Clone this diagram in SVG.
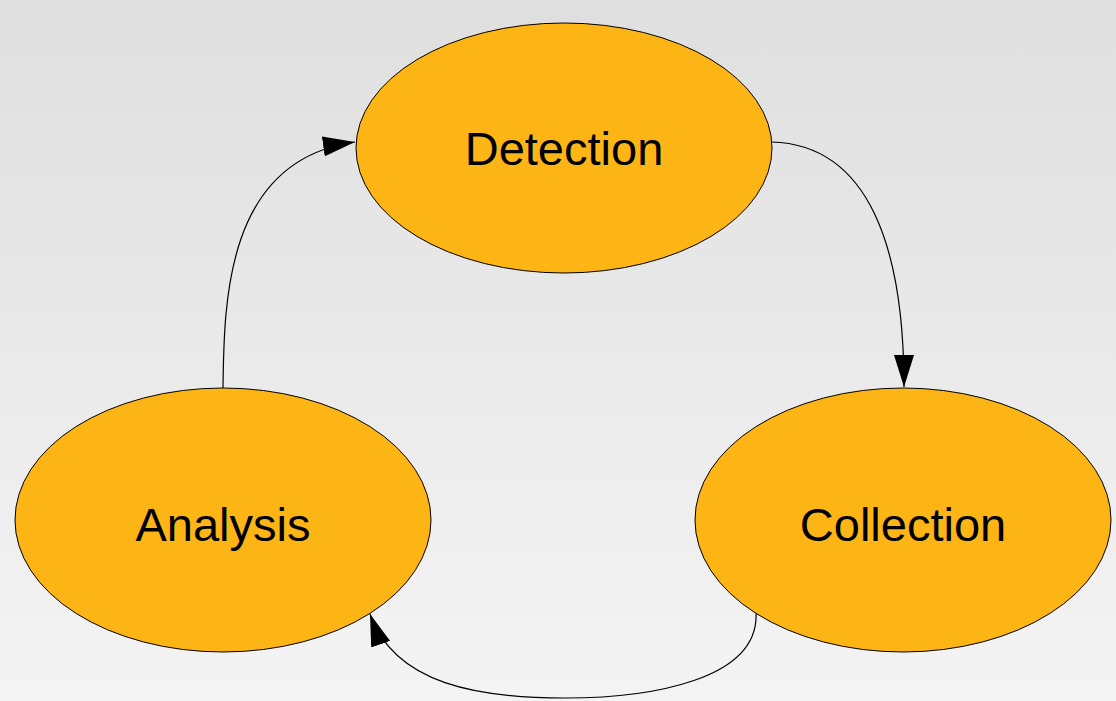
<svg xmlns="http://www.w3.org/2000/svg" width="1116" height="701" viewBox="0 0 1116 701">
<defs>
<linearGradient id="bg" x1="0" y1="0" x2="0" y2="1">
<stop offset="0" stop-color="#dfdfdf"/>
<stop offset="1" stop-color="#f4f4f4"/>
</linearGradient>
<marker id="arr" viewBox="0 0 32 20" refX="32" refY="10" markerWidth="32" markerHeight="20" markerUnits="userSpaceOnUse" orient="auto">
<path d="M0,0 L32,10 L0,20 Z" fill="#000"/>
</marker>
</defs>
<style>
.node ellipse{fill:#fdb515;stroke:#000;stroke-width:1}
.node text{font-family:"Liberation Sans",Arial,sans-serif;font-size:47px;fill:#000;text-anchor:middle}
.edge{fill:none;stroke:#000;stroke-width:1.2;marker-end:url(#arr)}
</style>
<rect width="1116" height="701" fill="url(#bg)"/>
<g id="connectors">
<path class="edge" d="M223,388 C224,300 226,160 355,142"/>
<path class="edge" d="M772,142 C870,145 904,250 904,387"/>
<path class="edge" d="M756,612 C760,680 650,698 565,698 C480,698 395,685 370,614"/>
</g>
<g id="detection" class="node">
<ellipse cx="564" cy="148" rx="208" ry="125"/>
<text x="564" y="165">Detection</text>
</g>
<g id="analysis" class="node">
<ellipse cx="223" cy="520" rx="208" ry="132"/>
<text x="223" y="541">Analysis</text>
</g>
<g id="collection" class="node">
<ellipse cx="903" cy="520" rx="208" ry="132"/>
<text x="903" y="541">Collection</text>
</g>
</svg>
